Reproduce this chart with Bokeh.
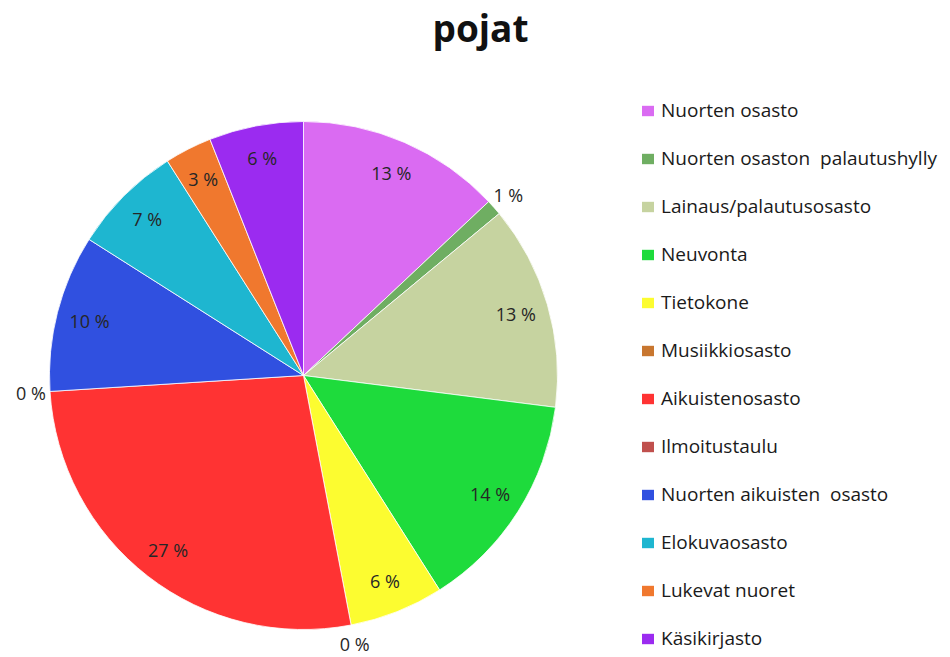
import numpy as np
from bokeh.plotting import figure
from bokeh.models import ColumnDataSource, Range1d, Legend, LegendItem, Label
from bokeh.core.properties import value
from bokeh.embed import file_html
from bokeh.resources import INLINE

title_text = "pojat"
categories = [
    "Nuorten osasto",
    "Nuorten osaston  palautushylly",
    "Lainaus/palautusosasto",
    "Neuvonta",
    "Tietokone",
    "Musiikkiosasto",
    "Aikuistenosasto",
    "Ilmoitustaulu",
    "Nuorten aikuisten  osasto",
    "Elokuvaosasto",
    "Lukevat nuoret",
    "Käsikirjasto",
]
percents = [13, 1, 13, 14, 6, 0, 27, 0, 10, 7, 3, 6]
colors = [
    "#DA6BF2", "#6FAE62", "#C6D3A0", "#1EDB3C", "#FCFC30", "#C8762F",
    "#FF3333", "#C0504D", "#3050E0", "#1EB6D0", "#F0782E", "#9B2BF0",
]

W, H = 948, 656
p = figure(width=W, height=H, output_backend="svg", toolbar_location=None,
           x_range=Range1d(0, W), y_range=Range1d(0, H),
           x_axis_location=None, y_axis_location=None, min_border=0)
p.grid.visible = False
p.outline_line_color = None

cx, cy, R = 303, H - 375, 254
vals = np.array(percents, dtype=float)
frac = vals / vals.sum()
cum_end = np.cumsum(frac)
cum_start = cum_end - frac
start = np.pi / 2 - cum_start * 2 * np.pi
end = np.pi / 2 - cum_end * 2 * np.pi
mid = (start + end) / 2

lab_r = np.where(vals < 2, 1.075 * R, 0.87 * R)
full = ColumnDataSource(dict(
    cat=categories, color=colors, start=start, end=end,
    lx=cx + lab_r * np.cos(mid), ly=cy + lab_r * np.sin(mid),
    lab=[f"{v:g} %" for v in percents],
))
nz = vals > 0
slices = ColumnDataSource(dict(
    color=[c for c, k in zip(colors, nz) if k],
    start=start[nz], end=end[nz],
))

p.wedge(x=cx, y=cy, radius=R, start_angle="start", end_angle="end",
        direction="clock", fill_color="color", line_color="white",
        line_width=0.8, source=slices)

# legend-only renderer (zero radius), one entry per category
leg_r = p.wedge(x=cx, y=cy, radius=0, start_angle="start", end_angle="end",
                direction="clock", fill_color="color", line_color=None,
                source=full)

p.text(x="lx", y="ly", text="lab", source=full, text_align="center",
       text_baseline="middle", text_font=value("Open Sans"),
       text_font_size="18px", text_color="#262626")

items = [LegendItem(label=c, renderers=[leg_r], index=i) for i, c in enumerate(categories)]
legend = Legend(items=items, location=(640, H - 651), orientation="vertical",
                glyph_width=15, glyph_height=13, label_height=26,
                label_standoff=6, spacing=22, padding=0, margin=0,
                border_line_alpha=0, background_fill_alpha=0,
                label_text_font="Open Sans", label_text_font_size="19px",
                label_text_color="#1a1a1a")
p.add_layout(legend)

p.add_layout(Label(x=480, y=H - 27, text=title_text, text_align="center",
                   text_baseline="middle", text_font="Open Sans",
                   text_font_style="bold", text_font_size="37px",
                   text_color="#111111"))

open("out.html", "w").write(file_html(p, INLINE))
